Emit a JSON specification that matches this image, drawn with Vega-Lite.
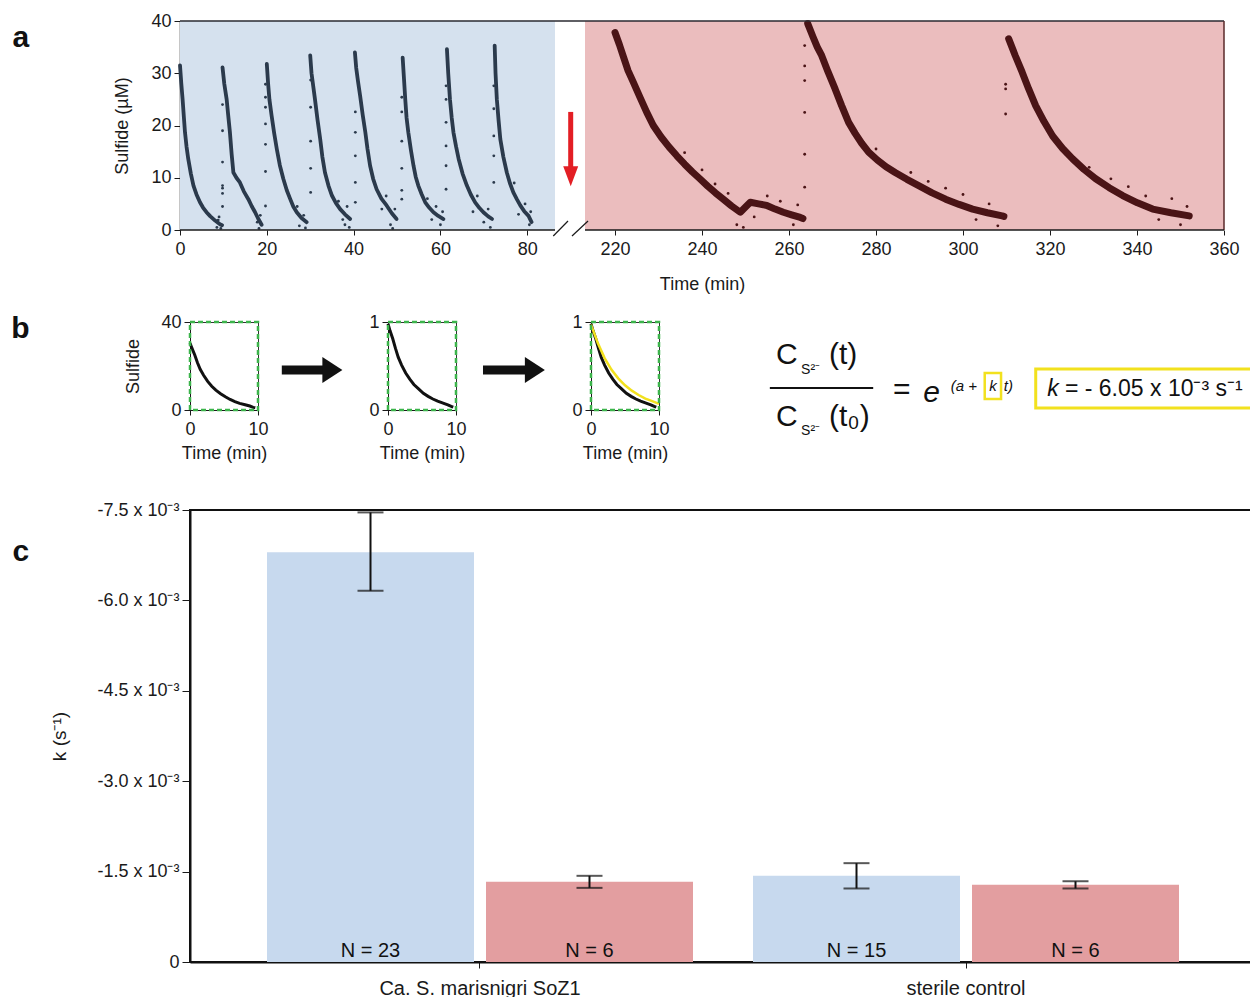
{
 "$schema": "https://vega.github.io/schema/vega-lite/v6.json",
 "background": "white",
 "padding": {"left": 10, "top": 12, "right": 0, "bottom": 0},
 "config": {
  "font": "Liberation Sans",
  "view": {"stroke": null},
  "axis": {"grid": false, "labelColor": "#1a1a1a", "titleColor": "#1a1a1a", "tickColor": "#1a1a1a", "domainColor": "#1a1a1a", "titleFontWeight": "normal", "labelFlush": false, "labelOverlap": false, "zindex": 1, "labelFont": "Liberation Sans", "titleFont": "Liberation Sans"},
  "title": {"fontWeight": "bold", "color": "#111", "font": "Liberation Sans"}
 },
 "datasets": {
  "bgA": [{"p": "blue", "t": 0, "t2": 86.4}, {"p": "red", "t": 213.1, "t2": 360}],
  "curvesA": [
   {"c":"C1","p":"blue","t":0,"s":31.5},{"c":"C1","p":"blue","t":0.3,"s":28},{"c":"C1","p":"blue","t":0.6,"s":25},{"c":"C1","p":"blue","t":0.9,"s":21.5},{"c":"C1","p":"blue","t":1.15,"s":18.7},{"c":"C1","p":"blue","t":1.5,"s":16},{"c":"C1","p":"blue","t":1.9,"s":13.6},{"c":"C1","p":"blue","t":2.5,"s":10.8},{"c":"C1","p":"blue","t":3.1,"s":8.5},{"c":"C1","p":"blue","t":3.8,"s":6.8},{"c":"C1","p":"blue","t":4.6,"s":5.3},{"c":"C1","p":"blue","t":5.3,"s":4.3},{"c":"C1","p":"blue","t":6.1,"s":3.4},{"c":"C1","p":"blue","t":7,"s":2.6},{"c":"C1","p":"blue","t":8.1,"s":1.8},{"c":"C1","p":"blue","t":9.2,"s":1.1},{"c":"C1","p":"blue","t":9.7,"s":0.9},
   {"c":"C2","p":"blue","t":9.8,"s":31.1},{"c":"C2","p":"blue","t":10.2,"s":28},{"c":"C2","p":"blue","t":10.75,"s":25},{"c":"C2","p":"blue","t":11.1,"s":22},{"c":"C2","p":"blue","t":11.5,"s":18.7},{"c":"C2","p":"blue","t":11.9,"s":14.5},{"c":"C2","p":"blue","t":12.3,"s":11},{"c":"C2","p":"blue","t":13,"s":10},{"c":"C2","p":"blue","t":13.8,"s":9.1},{"c":"C2","p":"blue","t":14.7,"s":7.4},{"c":"C2","p":"blue","t":15.75,"s":5.9},{"c":"C2","p":"blue","t":16.5,"s":4.6},{"c":"C2","p":"blue","t":17.3,"s":3.4},{"c":"C2","p":"blue","t":18,"s":2.2},{"c":"C2","p":"blue","t":18.8,"s":1},
   {"c":"C3","p":"blue","t":20,"s":31.8},{"c":"C3","p":"blue","t":20.3,"s":28},{"c":"C3","p":"blue","t":20.6,"s":25},{"c":"C3","p":"blue","t":21.1,"s":21.9},{"c":"C3","p":"blue","t":21.7,"s":18.5},{"c":"C3","p":"blue","t":22.3,"s":15.5},{"c":"C3","p":"blue","t":23,"s":12.4},{"c":"C3","p":"blue","t":23.8,"s":9.8},{"c":"C3","p":"blue","t":24.6,"s":7.6},{"c":"C3","p":"blue","t":25.4,"s":5.9},{"c":"C3","p":"blue","t":26.1,"s":4.5},{"c":"C3","p":"blue","t":26.9,"s":3.4},{"c":"C3","p":"blue","t":28,"s":2.3},{"c":"C3","p":"blue","t":29.2,"s":1.5},
   {"c":"C4","p":"blue","t":30,"s":33.4},{"c":"C4","p":"blue","t":30.3,"s":30},{"c":"C4","p":"blue","t":30.7,"s":27.5},{"c":"C4","p":"blue","t":31.1,"s":25},{"c":"C4","p":"blue","t":31.7,"s":21},{"c":"C4","p":"blue","t":32.3,"s":17.4},{"c":"C4","p":"blue","t":32.8,"s":14},{"c":"C4","p":"blue","t":33.4,"s":11},{"c":"C4","p":"blue","t":34.2,"s":8.5},{"c":"C4","p":"blue","t":35,"s":6.6},{"c":"C4","p":"blue","t":35.9,"s":5.2},{"c":"C4","p":"blue","t":36.9,"s":4},{"c":"C4","p":"blue","t":38,"s":3},{"c":"C4","p":"blue","t":39.2,"s":2.1},
   {"c":"C5","p":"blue","t":40.3,"s":34},{"c":"C5","p":"blue","t":40.6,"s":31},{"c":"C5","p":"blue","t":41,"s":28.5},{"c":"C5","p":"blue","t":41.5,"s":25.7},{"c":"C5","p":"blue","t":42.1,"s":22},{"c":"C5","p":"blue","t":42.7,"s":18.7},{"c":"C5","p":"blue","t":43.2,"s":15.5},{"c":"C5","p":"blue","t":43.8,"s":12.3},{"c":"C5","p":"blue","t":44.5,"s":9.8},{"c":"C5","p":"blue","t":45.3,"s":7.8},{"c":"C5","p":"blue","t":46.4,"s":6},{"c":"C5","p":"blue","t":47.6,"s":4.7},{"c":"C5","p":"blue","t":48.8,"s":3.2},{"c":"C5","p":"blue","t":49.9,"s":2.1},
   {"c":"C6","p":"blue","t":51.3,"s":33},{"c":"C6","p":"blue","t":51.6,"s":29},{"c":"C6","p":"blue","t":51.9,"s":25},{"c":"C6","p":"blue","t":52.2,"s":21.5},{"c":"C6","p":"blue","t":52.6,"s":18.7},{"c":"C6","p":"blue","t":53.2,"s":15.3},{"c":"C6","p":"blue","t":53.8,"s":12.3},{"c":"C6","p":"blue","t":54.3,"s":10.2},{"c":"C6","p":"blue","t":54.9,"s":8.5},{"c":"C6","p":"blue","t":55.7,"s":6.8},{"c":"C6","p":"blue","t":56.5,"s":5.3},{"c":"C6","p":"blue","t":57.4,"s":4.3},{"c":"C6","p":"blue","t":58.4,"s":3.4},{"c":"C6","p":"blue","t":59.5,"s":2.7},{"c":"C6","p":"blue","t":60.7,"s":2.1},
   {"c":"C7","p":"blue","t":61.5,"s":34.6},{"c":"C7","p":"blue","t":61.8,"s":30},{"c":"C7","p":"blue","t":62.2,"s":25},{"c":"C7","p":"blue","t":62.6,"s":21.5},{"c":"C7","p":"blue","t":63,"s":18.7},{"c":"C7","p":"blue","t":63.6,"s":16},{"c":"C7","p":"blue","t":64.2,"s":13.6},{"c":"C7","p":"blue","t":65.1,"s":10.8},{"c":"C7","p":"blue","t":66.1,"s":8.5},{"c":"C7","p":"blue","t":67,"s":6.8},{"c":"C7","p":"blue","t":68,"s":5.3},{"c":"C7","p":"blue","t":69,"s":4.2},{"c":"C7","p":"blue","t":69.9,"s":3.4},{"c":"C7","p":"blue","t":71,"s":2.6},{"c":"C7","p":"blue","t":71.9,"s":2.1},
   {"c":"C8","p":"blue","t":72.5,"s":35.3},{"c":"C8","p":"blue","t":72.7,"s":30},{"c":"C8","p":"blue","t":73,"s":25},{"c":"C8","p":"blue","t":73.4,"s":21},{"c":"C8","p":"blue","t":73.8,"s":17.4},{"c":"C8","p":"blue","t":74.5,"s":14},{"c":"C8","p":"blue","t":75.3,"s":11},{"c":"C8","p":"blue","t":76,"s":9},{"c":"C8","p":"blue","t":76.8,"s":7.2},{"c":"C8","p":"blue","t":77.6,"s":5.9},{"c":"C8","p":"blue","t":78.4,"s":4.7},{"c":"C8","p":"blue","t":79.3,"s":3.6},{"c":"C8","p":"blue","t":80.3,"s":2.7},{"c":"C8","p":"blue","t":81,"s":1.5},
   {"c":"R1","p":"red","t":220,"s":37.8},{"c":"R1","p":"red","t":221,"s":35.5},{"c":"R1","p":"red","t":222,"s":33},{"c":"R1","p":"red","t":223,"s":30.5},{"c":"R1","p":"red","t":224.2,"s":28.3},{"c":"R1","p":"red","t":225.8,"s":25.3},{"c":"R1","p":"red","t":227.3,"s":22.5},{"c":"R1","p":"red","t":228.8,"s":20},{"c":"R1","p":"red","t":230.6,"s":17.8},{"c":"R1","p":"red","t":232.4,"s":15.9},{"c":"R1","p":"red","t":234.2,"s":14.2},{"c":"R1","p":"red","t":236,"s":12.6},{"c":"R1","p":"red","t":237.8,"s":11.1},{"c":"R1","p":"red","t":239.5,"s":9.8},{"c":"R1","p":"red","t":241.3,"s":8.4},{"c":"R1","p":"red","t":243.1,"s":7.1},{"c":"R1","p":"red","t":244.9,"s":5.9},{"c":"R1","p":"red","t":246.8,"s":4.6},{"c":"R1","p":"red","t":248.8,"s":3.4},{"c":"R1","p":"red","t":250,"s":4.4},{"c":"R1","p":"red","t":251.1,"s":5.3},{"c":"R1","p":"red","t":253,"s":5},{"c":"R1","p":"red","t":254.9,"s":4.7},{"c":"R1","p":"red","t":256.8,"s":4},{"c":"R1","p":"red","t":258.7,"s":3.4},{"c":"R1","p":"red","t":260.6,"s":2.9},{"c":"R1","p":"red","t":262.6,"s":2.4},{"c":"R1","p":"red","t":263.2,"s":2.2},
   {"c":"R2","p":"red","t":264.3,"s":39.5},{"c":"R2","p":"red","t":265.5,"s":37},{"c":"R2","p":"red","t":266.5,"s":35},{"c":"R2","p":"red","t":267.5,"s":33.4},{"c":"R2","p":"red","t":269,"s":30.2},{"c":"R2","p":"red","t":270.6,"s":27},{"c":"R2","p":"red","t":272.1,"s":23.8},{"c":"R2","p":"red","t":273.7,"s":20.6},{"c":"R2","p":"red","t":275.2,"s":18.5},{"c":"R2","p":"red","t":276.7,"s":16.6},{"c":"R2","p":"red","t":278.3,"s":14.9},{"c":"R2","p":"red","t":280.3,"s":13.4},{"c":"R2","p":"red","t":282.3,"s":12.1},{"c":"R2","p":"red","t":284.4,"s":11},{"c":"R2","p":"red","t":287.1,"s":9.7},{"c":"R2","p":"red","t":289.8,"s":8.5},{"c":"R2","p":"red","t":292.9,"s":7.1},{"c":"R2","p":"red","t":296,"s":5.9},{"c":"R2","p":"red","t":299.1,"s":4.9},{"c":"R2","p":"red","t":302.2,"s":4},{"c":"R2","p":"red","t":305.6,"s":3.3},{"c":"R2","p":"red","t":309,"s":2.7},{"c":"R2","p":"red","t":309.4,"s":2.6},
   {"c":"R3","p":"red","t":310.5,"s":36.6},{"c":"R3","p":"red","t":312,"s":33.4},{"c":"R3","p":"red","t":313.6,"s":30.2},{"c":"R3","p":"red","t":315.1,"s":27},{"c":"R3","p":"red","t":316.7,"s":23.8},{"c":"R3","p":"red","t":318.6,"s":20.8},{"c":"R3","p":"red","t":320.6,"s":18},{"c":"R3","p":"red","t":322.9,"s":15.6},{"c":"R3","p":"red","t":325.2,"s":13.6},{"c":"R3","p":"red","t":327.8,"s":11.6},{"c":"R3","p":"red","t":330.5,"s":9.8},{"c":"R3","p":"red","t":333.6,"s":8.1},{"c":"R3","p":"red","t":336.7,"s":6.6},{"c":"R3","p":"red","t":340.1,"s":5.2},{"c":"R3","p":"red","t":343.6,"s":4},{"c":"R3","p":"red","t":347.8,"s":3.3},{"c":"R3","p":"red","t":352,"s":2.7}
  ],
  "dotsA": [
   {"p":"blue","t":9.8,"s":4.5},{"p":"blue","t":9.8,"s":7},{"p":"blue","t":9.8,"s":8},{"p":"blue","t":9.8,"s":8.5},{"p":"blue","t":9.8,"s":13},{"p":"blue","t":9.8,"s":19},{"p":"blue","t":9.8,"s":24},
   {"p":"blue","t":19.7,"s":4.6},{"p":"blue","t":19.7,"s":11.2},{"p":"blue","t":19.7,"s":16.4},{"p":"blue","t":19.7,"s":20.3},{"p":"blue","t":19.7,"s":23.5},{"p":"blue","t":19.7,"s":25.4},{"p":"blue","t":19.7,"s":27.9},
   {"p":"blue","t":30.1,"s":7.2},{"p":"blue","t":30.1,"s":11.8},{"p":"blue","t":30.1,"s":17},{"p":"blue","t":30.1,"s":23.5},{"p":"blue","t":30.1,"s":28.7},
   {"p":"blue","t":40.4,"s":5.3},{"p":"blue","t":40.4,"s":9.1},{"p":"blue","t":40.4,"s":14.2},{"p":"blue","t":40.4,"s":18.7},{"p":"blue","t":40.4,"s":22.6},
   {"p":"blue","t":51.1,"s":5.9},{"p":"blue","t":51.1,"s":7.6},{"p":"blue","t":51.1,"s":11.8},{"p":"blue","t":51.1,"s":17},{"p":"blue","t":51.1,"s":22.6},{"p":"blue","t":51.1,"s":25.4},
   {"p":"blue","t":61.3,"s":7.8},{"p":"blue","t":61.3,"s":12.3},{"p":"blue","t":61.3,"s":16.1},{"p":"blue","t":61.3,"s":20.6},{"p":"blue","t":61.3,"s":25},{"p":"blue","t":61.3,"s":27.6},
   {"p":"blue","t":72.3,"s":9.1},{"p":"blue","t":72.3,"s":14.2},{"p":"blue","t":72.3,"s":18},{"p":"blue","t":72.3,"s":23.2},{"p":"blue","t":72.3,"s":27.6},
   {"p":"blue","t":8.5,"s":0.5},{"p":"blue","t":9,"s":2.5},{"p":"blue","t":9.4,"s":0.3},{"p":"blue","t":8.8,"s":1.9},{"p":"blue","t":17.8,"s":1.5},{"p":"blue","t":18.5,"s":2.8},{"p":"blue","t":18.2,"s":0.3},{"p":"blue","t":27.5,"s":0.8},{"p":"blue","t":28.5,"s":2.8},{"p":"blue","t":28.9,"s":0.4},{"p":"blue","t":27,"s":4.5},{"p":"blue","t":36.5,"s":5.5},{"p":"blue","t":37.5,"s":2},{"p":"blue","t":38.5,"s":4.5},{"p":"blue","t":39,"s":0.5},{"p":"blue","t":38,"s":1},{"p":"blue","t":46.5,"s":4},{"p":"blue","t":47.5,"s":6.5},{"p":"blue","t":48.5,"s":1},{"p":"blue","t":49.5,"s":4},{"p":"blue","t":49,"s":0.3},{"p":"blue","t":57,"s":6},{"p":"blue","t":58,"s":2},{"p":"blue","t":59,"s":4.5},{"p":"blue","t":60,"s":1},{"p":"blue","t":60.5,"s":3.5},{"p":"blue","t":67.5,"s":3.5},{"p":"blue","t":68.5,"s":6.5},{"p":"blue","t":70,"s":1.5},{"p":"blue","t":71,"s":4},{"p":"blue","t":71.5,"s":0.5},{"p":"blue","t":77,"s":9},{"p":"blue","t":78,"s":3},{"p":"blue","t":79.5,"s":5},{"p":"blue","t":80.5,"s":1},{"p":"blue","t":80.8,"s":3.5},
   {"p":"red","t":263.6,"s":8.2},{"p":"red","t":263.6,"s":14.5},{"p":"red","t":263.6,"s":22.5},{"p":"red","t":263.6,"s":28.6},{"p":"red","t":263.6,"s":31.4},{"p":"red","t":263.6,"s":35.3},
   {"p":"red","t":309.8,"s":22.2},{"p":"red","t":309.8,"s":27},{"p":"red","t":309.8,"s":27.9},
   {"p":"red","t":243,"s":8.8},{"p":"red","t":246,"s":7},{"p":"red","t":248,"s":1},{"p":"red","t":249.5,"s":0.5},{"p":"red","t":252,"s":2.5},{"p":"red","t":255,"s":6.5},{"p":"red","t":258,"s":5.5},{"p":"red","t":261,"s":1},{"p":"red","t":262,"s":4.8},{"p":"red","t":240,"s":11.5},{"p":"red","t":236,"s":14.8},{"p":"red","t":288,"s":11},{"p":"red","t":292,"s":9.3},{"p":"red","t":296,"s":8},{"p":"red","t":300,"s":6.8},{"p":"red","t":303,"s":2},{"p":"red","t":306,"s":5},{"p":"red","t":308,"s":0.8},{"p":"red","t":280,"s":15.5},{"p":"red","t":334,"s":9.8},{"p":"red","t":338,"s":8.3},{"p":"red","t":342,"s":6.5},{"p":"red","t":345,"s":2},{"p":"red","t":348,"s":6},{"p":"red","t":350,"s":1},{"p":"red","t":351.5,"s":4.5},{"p":"red","t":329,"s":12}
  ],
  "b1": [{"t":0,"v":30.5},{"t":0.3,"v":28},{"t":0.7,"v":25},{"t":1.1,"v":21.5},{"t":1.5,"v":18.5},{"t":2,"v":15.8},{"t":2.6,"v":13},{"t":3.2,"v":10.8},{"t":3.8,"v":9},{"t":4.5,"v":7.4},{"t":5.2,"v":6},{"t":5.9,"v":4.8},{"t":6.6,"v":3.8},{"t":7.3,"v":3},{"t":8.1,"v":2.4},{"t":8.8,"v":1.8},{"t":9.3,"v":1.2},{"t":9.6,"v":1}],
  "b2": [{"t":0,"v":0.98},{"t":0.3,"v":0.9},{"t":0.7,"v":0.81},{"t":1.1,"v":0.7},{"t":1.5,"v":0.6},{"t":2,"v":0.51},{"t":2.6,"v":0.42},{"t":3.2,"v":0.35},{"t":3.8,"v":0.29},{"t":4.5,"v":0.24},{"t":5.2,"v":0.19},{"t":5.9,"v":0.155},{"t":6.6,"v":0.125},{"t":7.3,"v":0.1},{"t":8.1,"v":0.078},{"t":8.8,"v":0.058},{"t":9.3,"v":0.04},{"t":9.6,"v":0.032}],
  "fit": [{"t":0,"v":0.97},{"t":1,"v":0.76},{"t":2,"v":0.59},{"t":3,"v":0.46},{"t":4,"v":0.36},{"t":5,"v":0.28},{"t":6,"v":0.22},{"t":7,"v":0.17},{"t":8,"v":0.13},{"t":9,"v":0.1},{"t":10,"v":0.07}],
  "bars": [
   {"group":"Ca. S. marisnigri SoZ1","cond":"before","k":-0.0068,"lo":-0.00616,"hi":-0.00746,"n":"N = 23"},
   {"group":"Ca. S. marisnigri SoZ1","cond":"after","k":-0.00133,"lo":-0.00123,"hi":-0.00143,"n":"N = 6"},
   {"group":"sterile control","cond":"before","k":-0.00143,"lo":-0.00122,"hi":-0.00164,"n":"N = 15"},
   {"group":"sterile control","cond":"after","k":-0.00128,"lo":-0.00122,"hi":-0.00134,"n":"N = 6"}
  ]
 },
 "spacing": 37,
 "vconcat": [
  {
   "spacing": 19,
   "vconcat": [
    {
     "width": 1044, "height": 209,
     "title": {"text": "a", "orient": "left", "angle": 0, "anchor": "end", "frame": "group", "align": "right", "baseline": "alphabetic", "dy": 26, "offset": 68, "fontSize": 30},
     "resolve": {"scale": {"color": "independent", "fill": "independent", "stroke": "independent"}},
     "layer": [
      {"data": {"name": "bgA"}, "mark": {"type": "rect"},
       "encoding": {
        "x": {"field": "t", "type": "quantitative", "scale": {"domain": [0, 86.4, 213.1, 360], "range": [-10, 365, 395, 1034], "nice": false, "zero": false}},
        "x2": {"field": "t2"},
        "y": {"datum": 0, "type": "quantitative", "scale": {"domain": [0, 40], "nice": false, "zero": false}},
        "y2": {"datum": 40},
        "fill": {"field": "p", "type": "nominal", "scale": {"domain": ["blue", "red"], "range": ["#d5e1ee", "#ebbdbe"]}, "legend": null}
       }},
      {"data": {"name": "curvesA"}, "mark": {"type": "line", "strokeCap": "round", "strokeJoin": "round"},
       "encoding": {
        "x": {"field": "t", "type": "quantitative", "scale": {"domain": [0, 86.4, 213.1, 360], "range": [-10, 365, 395, 1034], "nice": false, "zero": false},
              "axis": {"values": [0, 20, 40, 60, 80, 220, 240, 260, 280, 300, 320, 340, 360], "title": "Time (min)", "domain": false, "tickSize": 5, "labelFontSize": 18, "titleFontSize": 18, "labelPadding": 5, "titlePadding": 17}},
        "y": {"field": "s", "type": "quantitative", "scale": {"domain": [0, 40], "nice": false, "zero": false},
              "axis": {"values": [0, 10, 20, 30, 40], "title": "Sulfide (µM)", "offset": 10, "domainWidth": 1.5, "tickSize": 6, "labelFontSize": 18, "titleFontSize": 18, "labelPadding": 3, "titlePadding": 19}},
        "detail": {"field": "c"},
        "stroke": {"field": "p", "type": "nominal", "scale": {"domain": ["blue", "red"], "range": ["#2b3a4c", "#4a1416"]}, "legend": null},
        "strokeWidth": {"field": "p", "type": "nominal", "scale": {"domain": ["blue", "red"], "range": [3.8, 7]}, "legend": null}
       }},
      {"data": {"name": "dotsA"}, "mark": {"type": "point", "filled": true, "size": 8, "opacity": 1},
       "encoding": {
        "x": {"field": "t", "type": "quantitative"},
        "y": {"field": "s", "type": "quantitative"},
        "color": {"field": "p", "type": "nominal", "scale": {"domain": ["blue", "red"], "range": ["#2b3a4c", "#4a1416"]}, "legend": null}
       }},
      {"data": {"values": [{}]}, "mark": {"type": "rule", "color": "#2a2a30", "strokeWidth": 1.5},
       "encoding": {"x": {"datum": 0, "type": "quantitative"}, "x2": {"datum": 360}, "y": {"datum": 40, "type": "quantitative"}}},
      {"data": {"values": [{}]}, "mark": {"type": "rule", "color": "#5a2a2a", "strokeWidth": 1.5},
       "encoding": {"x": {"datum": 360, "type": "quantitative"}, "y": {"datum": 0, "type": "quantitative"}, "y2": {"datum": 40}}},
      {"data": {"values": [{}]}, "mark": {"type": "rule", "color": "#1a1a1a", "strokeWidth": 1.5},
       "encoding": {"x": {"datum": 0, "type": "quantitative"}, "x2": {"datum": 86.4}, "y": {"datum": 0, "type": "quantitative"}}},
      {"data": {"values": [{}]}, "mark": {"type": "rule", "color": "#1a1a1a", "strokeWidth": 1.5},
       "encoding": {"x": {"datum": 213.1, "type": "quantitative"}, "x2": {"datum": 360}, "y": {"datum": 0, "type": "quantitative"}}},
      {"data": {"values": [{}]}, "mark": {"type": "rule", "color": "#1a1a1a", "strokeWidth": 1.2},
       "encoding": {"x": {"datum": 86.0, "type": "quantitative"}, "x2": {"datum": 141.3}, "y": {"datum": -1.15, "type": "quantitative"}, "y2": {"datum": 1.72}}},
      {"data": {"values": [{}]}, "mark": {"type": "rule", "color": "#1a1a1a", "strokeWidth": 1.2},
       "encoding": {"x": {"datum": 158.2, "type": "quantitative"}, "x2": {"datum": 213.8}, "y": {"datum": -1.15, "type": "quantitative"}, "y2": {"datum": 1.72}}},
      {"data": {"values": [{}]}, "mark": {"type": "rule", "color": "#e31e24", "strokeWidth": 5},
       "encoding": {"x": {"datum": 152.7, "type": "quantitative"}, "y": {"datum": 22.6, "type": "quantitative"}, "y2": {"datum": 11.8}}},
      {"data": {"values": [{}]}, "mark": {"type": "point", "shape": "M -0.75 -1 L 0.75 -1 L 0 1 Z", "filled": true, "size": 400, "color": "#e31e24", "opacity": 1},
       "encoding": {"x": {"datum": 152.7, "type": "quantitative"}, "y": {"datum": 10.3, "type": "quantitative"}}}
     ]
    },
    {
     "spacing": 25,
     "hconcat": [
      {
       "width": 68, "height": 88,
       "view": {"stroke": "#333", "strokeWidth": 1},
       "title": {"text": "b", "orient": "left", "angle": 0, "anchor": "end", "frame": "group", "align": "right", "baseline": "alphabetic", "dy": 16, "offset": 77, "fontSize": 30},
       "layer": [
        {"data": {"name": "b1"}, "mark": {"type": "line", "color": "#111", "strokeWidth": 3},
         "encoding": {
          "x": {"field": "t", "type": "quantitative", "scale": {"domain": [0, 10], "nice": false}, "axis": {"values": [0, 10], "title": "Time (min)", "tickSize": 5, "labelFontSize": 18, "titleFontSize": 18, "labelPadding": 5, "titlePadding": 6}},
          "y": {"field": "v", "type": "quantitative", "scale": {"domain": [0, 40], "nice": false}, "axis": {"values": [0, 40], "title": "Sulfide", "tickSize": 6, "labelFontSize": 18, "titleFontSize": 18, "labelPadding": 3, "titlePadding": 18}}
         }},
        {"data": {"values": [{}]}, "mark": {"type": "rect", "fillOpacity": 0, "stroke": "#3cb44b", "strokeWidth": 2.5, "strokeDash": [5, 3]},
         "encoding": {"x": {"datum": 0, "type": "quantitative"}, "x2": {"datum": 10}, "y": {"datum": 0, "type": "quantitative"}, "y2": {"datum": 40}}},
        {"data": {"values": [{}]}, "mark": {"type": "rule", "color": "#111", "strokeWidth": 9},
         "encoding": {"x": {"datum": 13.5, "type": "quantitative"}, "x2": {"datum": 19.6}, "y": {"datum": 18.2, "type": "quantitative"}}},
        {"data": {"values": [{}]}, "mark": {"type": "point", "shape": "M -0.77 -1 L 0.77 0 L -0.77 1 Z", "filled": true, "size": 676, "color": "#111", "opacity": 1},
         "encoding": {"x": {"datum": 20.94, "type": "quantitative"}, "y": {"datum": 18.2, "type": "quantitative"}}}
       ]
      },
      {
       "width": 68, "height": 88,
       "view": {"stroke": "#333", "strokeWidth": 1},
       "layer": [
        {"data": {"name": "b2"}, "mark": {"type": "line", "color": "#111", "strokeWidth": 3},
         "encoding": {
          "x": {"field": "t", "type": "quantitative", "scale": {"domain": [0, 10], "nice": false}, "axis": {"values": [0, 10], "title": "Time (min)", "tickSize": 5, "labelFontSize": 18, "titleFontSize": 18, "labelPadding": 5, "titlePadding": 6}},
          "y": {"field": "v", "type": "quantitative", "scale": {"domain": [0, 1], "nice": false}, "axis": {"values": [0, 1], "format": ".0f", "title": null, "tickSize": 6, "labelFontSize": 18, "labelPadding": 3}}
         }},
        {"data": {"values": [{}]}, "mark": {"type": "rect", "fillOpacity": 0, "stroke": "#3cb44b", "strokeWidth": 2.5, "strokeDash": [5, 3]},
         "encoding": {"x": {"datum": 0, "type": "quantitative"}, "x2": {"datum": 10}, "y": {"datum": 0, "type": "quantitative"}, "y2": {"datum": 1}}},
        {"data": {"values": [{}]}, "mark": {"type": "rule", "color": "#111", "strokeWidth": 9},
         "encoding": {"x": {"datum": 13.97, "type": "quantitative"}, "x2": {"datum": 20.15}, "y": {"datum": 0.455, "type": "quantitative"}}},
        {"data": {"values": [{}]}, "mark": {"type": "point", "shape": "M -0.77 -1 L 0.77 0 L -0.77 1 Z", "filled": true, "size": 676, "color": "#111", "opacity": 1},
         "encoding": {"x": {"datum": 21.6, "type": "quantitative"}, "y": {"datum": 0.455, "type": "quantitative"}}}
       ]
      },
      {
       "width": 68, "height": 88,
       "view": {"stroke": "#333", "strokeWidth": 1},
       "layer": [
        {"data": {"name": "b2"}, "mark": {"type": "line", "color": "#111", "strokeWidth": 3},
         "encoding": {
          "x": {"field": "t", "type": "quantitative", "scale": {"domain": [0, 10], "nice": false}, "axis": {"values": [0, 10], "title": "Time (min)", "tickSize": 5, "labelFontSize": 18, "titleFontSize": 18, "labelPadding": 5, "titlePadding": 6}},
          "y": {"field": "v", "type": "quantitative", "scale": {"domain": [0, 1], "nice": false}, "axis": {"values": [0, 1], "format": ".0f", "title": null, "tickSize": 6, "labelFontSize": 18, "labelPadding": 3}}
         }},
        {"data": {"name": "fit"}, "mark": {"type": "line", "color": "#f2e11e", "strokeWidth": 2.5},
         "encoding": {"x": {"field": "t", "type": "quantitative"}, "y": {"field": "v", "type": "quantitative"}}},
        {"data": {"values": [{}]}, "mark": {"type": "rect", "fillOpacity": 0, "stroke": "#3cb44b", "strokeWidth": 2.5, "strokeDash": [5, 3]},
         "encoding": {"x": {"datum": 0, "type": "quantitative"}, "x2": {"datum": 10}, "y": {"datum": 0, "type": "quantitative"}, "y2": {"datum": 1}}},
        {"data": {"values": [{}]}, "mark": {"type": "text", "text": "C", "fontSize": 30, "align": "left", "baseline": "middle", "color": "#111"},
         "encoding": {"x": {"datum": 27.2, "type": "quantitative"}, "y": {"datum": 0.625, "type": "quantitative"}}},
        {"data": {"values": [{}]}, "mark": {"type": "text", "text": "S²⁻", "fontSize": 14, "align": "left", "baseline": "middle", "color": "#111"},
         "encoding": {"x": {"datum": 30.9, "type": "quantitative"}, "y": {"datum": 0.455, "type": "quantitative"}}},
        {"data": {"values": [{}]}, "mark": {"type": "text", "text": "(t)", "fontSize": 30, "align": "left", "baseline": "middle", "color": "#111"},
         "encoding": {"x": {"datum": 35.0, "type": "quantitative"}, "y": {"datum": 0.625, "type": "quantitative"}}},
        {"data": {"values": [{}]}, "mark": {"type": "rule", "color": "#111", "strokeWidth": 2},
         "encoding": {"x": {"datum": 26.3, "type": "quantitative"}, "x2": {"datum": 41.5}, "y": {"datum": 0.25, "type": "quantitative"}}},
        {"data": {"values": [{}]}, "mark": {"type": "text", "text": "C", "fontSize": 30, "align": "left", "baseline": "middle", "color": "#111"},
         "encoding": {"x": {"datum": 27.2, "type": "quantitative"}, "y": {"datum": -0.08, "type": "quantitative"}}},
        {"data": {"values": [{}]}, "mark": {"type": "text", "text": "S²⁻", "fontSize": 14, "align": "left", "baseline": "middle", "color": "#111"},
         "encoding": {"x": {"datum": 30.9, "type": "quantitative"}, "y": {"datum": -0.24, "type": "quantitative"}}},
        {"data": {"values": [{}]}, "mark": {"type": "text", "text": "(t₀)", "fontSize": 30, "align": "left", "baseline": "middle", "color": "#111"},
         "encoding": {"x": {"datum": 35.0, "type": "quantitative"}, "y": {"datum": -0.08, "type": "quantitative"}}},
        {"data": {"values": [{}]}, "mark": {"type": "text", "text": "=", "fontSize": 30, "align": "center", "baseline": "middle", "color": "#111"},
         "encoding": {"x": {"datum": 45.7, "type": "quantitative"}, "y": {"datum": 0.227, "type": "quantitative"}}},
        {"data": {"values": [{}]}, "mark": {"type": "text", "text": "e", "fontSize": 30, "fontStyle": "italic", "align": "center", "baseline": "middle", "color": "#111"},
         "encoding": {"x": {"datum": 50.1, "type": "quantitative"}, "y": {"datum": 0.193, "type": "quantitative"}}},
        {"data": {"values": [{}]}, "mark": {"type": "text", "text": "(a +", "fontSize": 15, "fontStyle": "italic", "align": "left", "baseline": "middle", "color": "#111"},
         "encoding": {"x": {"datum": 52.9, "type": "quantitative"}, "y": {"datum": 0.273, "type": "quantitative"}}},
        {"data": {"values": [{}]}, "mark": {"type": "text", "text": "k", "fontSize": 15, "fontStyle": "italic", "align": "center", "baseline": "middle", "color": "#111"},
         "encoding": {"x": {"datum": 59.1, "type": "quantitative"}, "y": {"datum": 0.273, "type": "quantitative"}}},
        {"data": {"values": [{}]}, "mark": {"type": "text", "text": "t)", "fontSize": 15, "fontStyle": "italic", "align": "left", "baseline": "middle", "color": "#111"},
         "encoding": {"x": {"datum": 60.7, "type": "quantitative"}, "y": {"datum": 0.273, "type": "quantitative"}}},
        {"data": {"values": [{}]}, "mark": {"type": "rect", "fillOpacity": 0, "stroke": "#f2e11e", "strokeWidth": 2.5},
         "encoding": {"x": {"datum": 57.9, "type": "quantitative"}, "x2": {"datum": 60.3}, "y": {"datum": 0.42, "type": "quantitative"}, "y2": {"datum": 0.125}}},
        {"data": {"values": [{}]}, "mark": {"type": "rect", "fillOpacity": 0, "stroke": "#f2e11e", "strokeWidth": 3},
         "encoding": {"x": {"datum": 65.4, "type": "quantitative"}, "x2": {"datum": 97.2}, "y": {"datum": 0.466, "type": "quantitative"}, "y2": {"datum": 0.023}}},
        {"data": {"values": [{}]}, "mark": {"type": "text", "text": "k", "fontSize": 23, "fontStyle": "italic", "align": "left", "baseline": "middle", "color": "#111"},
         "encoding": {"x": {"datum": 67.1, "type": "quantitative"}, "y": {"datum": 0.239, "type": "quantitative"}}},
        {"data": {"values": [{}]}, "mark": {"type": "text", "text": "= - 6.05 x 10⁻³ s⁻¹", "fontSize": 23, "align": "left", "baseline": "middle", "color": "#111"},
         "encoding": {"x": {"datum": 69.7, "type": "quantitative"}, "y": {"datum": 0.239, "type": "quantitative"}}}
       ]
      }
     ]
    }
   ]
  },
  {
   "width": 1066, "height": 452,
   "view": {"stroke": "#111", "strokeWidth": 2},
   "title": {"text": "c", "orient": "left", "angle": 0, "anchor": "end", "frame": "group", "align": "right", "baseline": "alphabetic", "dy": 51, "offset": 5, "fontSize": 30},
   "data": {"name": "bars"},
   "encoding": {
    "x": {"field": "group", "type": "nominal", "scale": {"domain": ["Ca. S. marisnigri SoZ1", "sterile control"], "paddingInner": 0, "paddingOuter": 0.0967},
          "axis": {"title": null, "labelAngle": 0, "labelFontSize": 20, "labelLimit": 0, "tickSize": 6, "labelPadding": 10, "domainWidth": 2, "domainColor": "#111"}},
    "xOffset": {"field": "cond", "type": "nominal", "scale": {"domain": ["before", "after"], "paddingInner": 0.0548, "paddingOuter": 0.137}}
   },
   "layer": [
    {"mark": {"type": "bar"},
     "encoding": {
      "y": {"field": "k", "type": "quantitative", "scale": {"domain": [-0.0075, 0], "reverse": true, "nice": false, "zero": false},
            "axis": {"values": [-0.0075, -0.006, -0.0045, -0.003, -0.0015, 0], "labelExpr": "datum.value == 0 ? '0' : '-' + format(-datum.value*1000, '.1f') + ' x 10⁻³'", "title": "k (s⁻¹)", "labelFontSize": 18, "titleFontSize": 19, "tickSize": 8, "labelPadding": 3, "titlePadding": 27, "domainWidth": 2, "domainColor": "#111"}},
      "color": {"field": "cond", "type": "nominal", "scale": {"domain": ["before", "after"], "range": ["#c7d9ee", "#e39ea0"]}, "legend": null}
     }},
    {"mark": {"type": "rule", "color": "#111", "strokeWidth": 2},
     "encoding": {"y": {"field": "lo", "type": "quantitative"}, "y2": {"field": "hi"}}},
    {"mark": {"type": "tick", "color": "#111", "thickness": 2, "size": 26},
     "encoding": {"y": {"field": "lo", "type": "quantitative"}}},
    {"mark": {"type": "tick", "color": "#111", "thickness": 2, "size": 26},
     "encoding": {"y": {"field": "hi", "type": "quantitative"}}},
    {"mark": {"type": "text", "fontSize": 20, "color": "#111", "baseline": "middle"},
     "encoding": {"y": {"datum": -0.000183, "type": "quantitative"}, "text": {"field": "n"}}}
   ]
  }
 ]
}
